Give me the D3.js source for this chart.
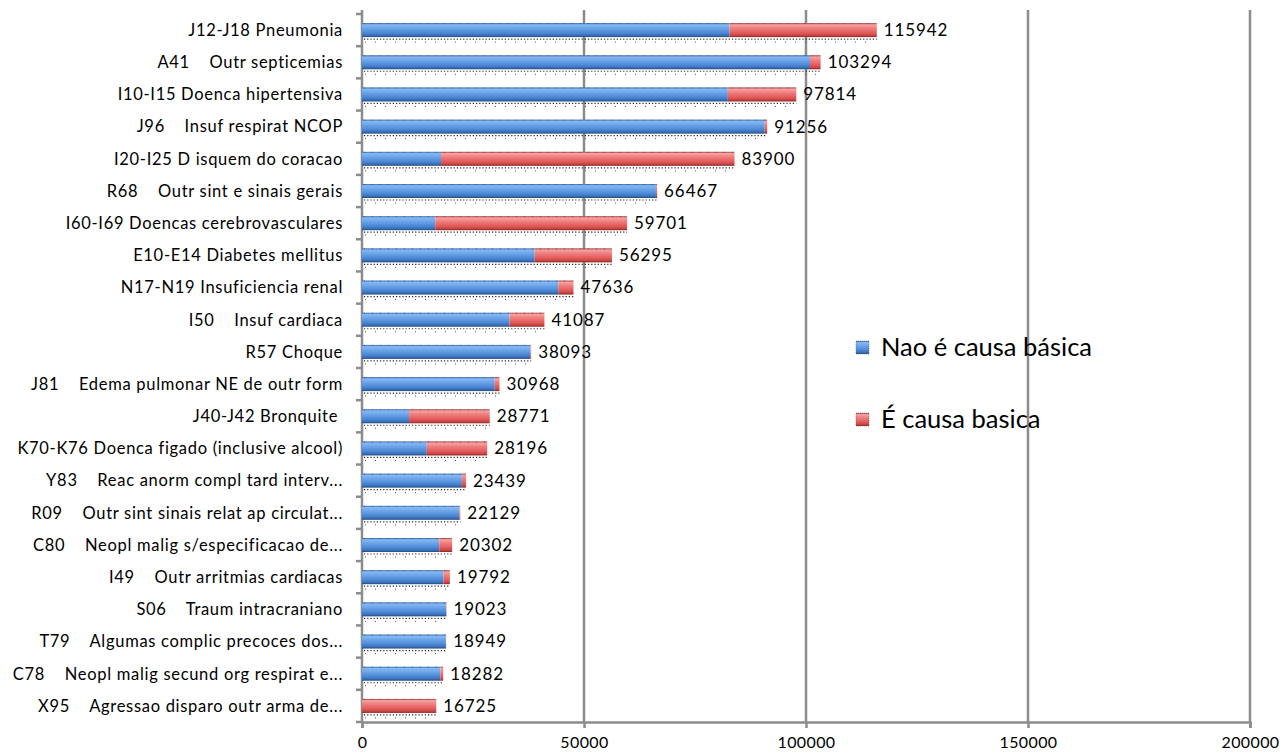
<!DOCTYPE html>
<html>
<head>
<meta charset="utf-8">
<script src="https://cdn.jsdelivr.net/npm/d3@7"></script>
<style>
  html, body { margin: 0; padding: 0; background: #fff; }
  svg { display: block; }
  text { font-family: Lato, "Open Sans", sans-serif; fill: #000; white-space: pre; }
</style>
</head>
<body>
<svg id="chart" width="1283" height="754"></svg>
<script>
// Causes of death, mentioned vs. underlying cause
const categories = [
  "J12-J18 Pneumonia",
  "A41    Outr septicemias",
  "I10-I15 Doenca hipertensiva",
  "J96    Insuf respirat NCOP",
  "I20-I25 D isquem do coracao",
  "R68    Outr sint e sinais gerais",
  "I60-I69 Doencas cerebrovasculares",
  "E10-E14 Diabetes mellitus",
  "N17-N19 Insuficiencia renal",
  "I50    Insuf cardiaca",
  "R57 Choque",
  "J81    Edema pulmonar NE de outr form",
  "J40-J42 Bronquite ",
  "K70-K76 Doenca figado (inclusive alcool)",
  "Y83    Reac anorm compl tard interv...",
  "R09    Outr sint sinais relat ap circulat...",
  "C80    Neopl malig s/especificacao de...",
  "I49    Outr arritmias cardiacas",
  "S06    Traum intracraniano",
  "T79    Algumas complic precoces dos...",
  "C78    Neopl malig secund org respirat e...",
  "X95    Agressao disparo outr arma de..."
];
const totals = [115942, 103294, 97814, 91256, 83900, 66467, 59701, 56295, 47636, 41087,
  38093, 30968, 28771, 28196, 23439, 22129, 20302, 19792, 19023, 18949, 18282, 16725];
const naoBasica = [82800, 100900, 82400, 90700, 17800, 66200, 16500, 38900, 44200, 33200,
  37950, 29900, 10600, 14600, 22500, 21950, 17400, 18350, 18950, 18900, 17650, 0];
const seriesNames = ["Nao é causa básica", "É causa basica"];
const xTicks = [0, 50000, 100000, 150000, 200000];

const svg = d3.select("#chart");

const x = d3.scaleLinear().domain([0, 200000]).range([362, 1250]);
const y = d3.scaleBand().domain(categories).range([14, 722]).paddingInner(0).paddingOuter(0);
const barH = 14;

// gradients for the cylinder-like bars
const defs = svg.append("defs");
function grad(id, stops) {
  const g = defs.append("linearGradient").attr("id", id)
    .attr("x1", 0).attr("y1", 0).attr("x2", 0).attr("y2", 1);
  stops.forEach(([o, c]) => g.append("stop").attr("offset", o).attr("stop-color", c));
}
grad("gBlue", [[0, "#2f64a8"], [0.12, "#86b8f2"], [0.35, "#6ea6ea"], [0.7, "#4b88d4"], [0.88, "#3a6fb6"], [1, "#204a86"]]);
grad("gRed", [[0, "#a83434"], [0.12, "#f6a2a2"], [0.35, "#f08080"], [0.7, "#e25a5a"], [0.88, "#c94444"], [1, "#8a2222"]]);

// vertical gridlines
svg.append("g").selectAll("line").data(xTicks.slice(1)).join("line")
  .attr("x1", d => x(d)).attr("x2", d => x(d))
  .attr("y1", 10).attr("y2", 722)
  .attr("stroke", "#8c8c8c").attr("stroke-width", 2.5);

// bottom axis
const xAxis = svg.append("g").attr("transform", "translate(0,722)")
  .call(d3.axisBottom(x).tickValues(xTicks).tickSize(6).tickPadding(9).tickFormat(d3.format("d")));
xAxis.select(".domain").attr("stroke", "#8c8c8c").attr("stroke-width", 2.5);
xAxis.selectAll(".tick line").attr("stroke", "#8c8c8c").attr("stroke-width", 2.5);
xAxis.selectAll(".tick text").attr("font-size", 16).attr("letter-spacing", 0.4)
  .attr("font-family", "Lato, sans-serif").attr("fill", "#000");

// left axis with ticks between categories
svg.append("line").attr("x1", 362).attr("x2", 362).attr("y1", 10).attr("y2", 722)
  .attr("stroke", "#8c8c8c").attr("stroke-width", 2.5);
const boundaries = categories.map(c => y(c)).concat([y.range()[1]]);
svg.append("g").selectAll("line").data(boundaries).join("line")
  .attr("x1", 356).attr("x2", 362).attr("y1", d => d).attr("y2", d => d)
  .attr("stroke", "#8c8c8c").attr("stroke-width", 2.5);

// category labels
svg.append("g").selectAll("text").data(categories).join("text")
  .attr("x", 343).attr("y", d => y(d) + y.bandwidth() / 2)
  .attr("dy", "0.35em").attr("text-anchor", "end").attr("font-size", 16.5)
  .attr("letter-spacing", 0.7)
  .text(d => d);

const rows = categories.map((c, i) => ({ c, total: totals[i], blue: naoBasica[i], red: totals[i] - naoBasica[i] }));
const cy = d => y(d.c) + y.bandwidth() / 2;

// dotted shadow under each bar
const shadow = svg.append("g");
shadow.selectAll("line.s1").data(rows).join("line").attr("class", "s1")
  .attr("x1", x(0) + 2).attr("x2", d => x(d.total))
  .attr("y1", d => cy(d) + barH / 2 + 2).attr("y2", d => cy(d) + barH / 2 + 2)
  .attr("stroke", "#222").attr("stroke-width", 1.2).attr("stroke-dasharray", "1.2,2");
shadow.selectAll("line.s2").data(rows).join("line").attr("class", "s2")
  .attr("x1", x(0) + 3).attr("x2", d => x(d.total) - 2)
  .attr("y1", d => cy(d) + barH / 2 + 5).attr("y2", d => cy(d) + barH / 2 + 5)
  .attr("stroke", "#555").attr("stroke-width", 1).attr("stroke-dasharray", "1,9");

// stacked bars
const bars = svg.append("g");
bars.selectAll("rect.blue").data(rows.filter(d => d.blue > 0)).join("rect").attr("class", "blue")
  .attr("x", x(0)).attr("y", d => cy(d) - barH / 2)
  .attr("width", d => x(d.blue) - x(0)).attr("height", barH)
  .attr("fill", "url(#gBlue)");
bars.selectAll("rect.red").data(rows.filter(d => d.red > 0)).join("rect").attr("class", "red")
  .attr("x", d => x(d.blue)).attr("y", d => cy(d) - barH / 2)
  .attr("width", d => x(d.total) - x(d.blue)).attr("height", barH)
  .attr("fill", "url(#gRed)");
// dotted top edge of each bar
bars.selectAll("line.top").data(rows).join("line").attr("class", "top")
  .attr("x1", x(0) + 2).attr("x2", d => x(d.total) - 1)
  .attr("y1", d => cy(d) - barH / 2 + 0.5).attr("y2", d => cy(d) - barH / 2 + 0.5)
  .attr("stroke", "#1c3f70").attr("stroke-opacity", 0.6).attr("stroke-width", 1).attr("stroke-dasharray", "1,7");

// value labels
svg.append("g").selectAll("text").data(rows).join("text")
  .attr("x", d => x(d.total) + 7).attr("y", d => cy(d))
  .attr("dy", "0.35em").attr("font-size", 17).attr("letter-spacing", 0.9)
  .text(d => d.total);

// legend
const legend = svg.append("g");
const legendItems = [
  { name: seriesNames[0], fill: "url(#gBlue)", y: 347 },
  { name: seriesNames[1], fill: "url(#gRed)", y: 419 }
];
legend.selectAll("rect").data(legendItems).join("rect")
  .attr("x", 856).attr("y", d => d.y - 6).attr("width", 13).attr("height", 13)
  .attr("fill", d => d.fill).attr("stroke", "#666").attr("stroke-width", 0.6).attr("stroke-dasharray", "1,1");
legend.selectAll("text").data(legendItems).join("text")
  .attr("x", 881).attr("y", d => d.y).attr("dy", "0.35em").attr("font-size", 25.5)
  .text(d => d.name);
</script>
</body>
</html>
